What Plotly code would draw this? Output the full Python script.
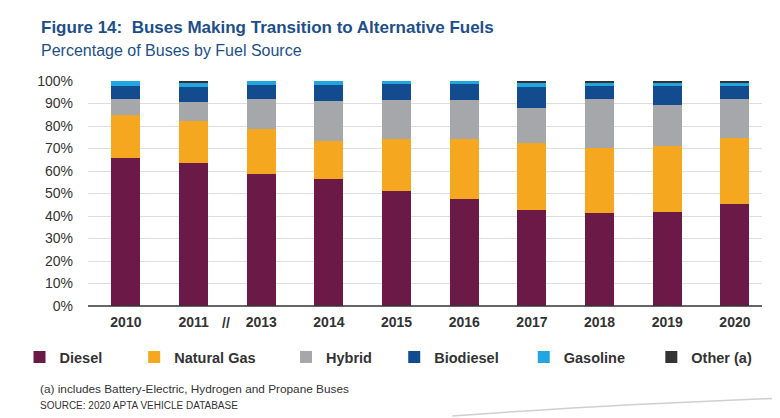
import plotly.graph_objects as go

years = ["2010", "2011", "2013", "2014", "2015", "2016", "2017", "2018", "2019", "2020"]
diesel = [65.6, 63.4, 58.7, 56.4, 51.3, 47.7, 42.8, 41.5, 41.9, 45.5]
natural_gas = [19.3, 19.0, 20.1, 16.8, 22.8, 26.4, 29.5, 28.6, 29.4, 29.0]
hybrid = [7.0, 8.4, 13.1, 17.8, 17.6, 17.3, 15.7, 21.8, 18.0, 17.4]
biodiesel = [5.9, 6.7, 6.5, 7.4, 6.8, 7.1, 9.5, 5.9, 8.5, 5.9]
gasoline = [2.2, 1.9, 1.6, 1.6, 1.5, 1.5, 1.8, 1.6, 1.5, 1.6]
other = [0.0, 0.6, 0.0, 0.0, 0.0, 0.0, 0.7, 0.6, 0.7, 0.6]
y_ticks = [0, 10, 20, 30, 40, 50, 60, 70, 80, 90, 100]
y_tick_labels = [f"{v}%" for v in y_ticks]

# legend square centres (reference pixels)
series = [
    ("Diesel", diesel, "#6b1a47", 38.5),
    ("Natural Gas", natural_gas, "#f5a81f", 154),
    ("Hybrid", hybrid, "#a6a7aa", 307),
    ("Biodiesel", biodiesel, "#124c8e", 416),
    ("Gasoline", gasoline, "#22a6e0", 546.5),
    ("Other (a)", other, "#333333", 675),
]

OFF = 8  # page body margin
W, H = 780 - OFF, 418 - OFF
L, R, T, B = 83 - OFF, 18, 81 - OFF, 112
pw, ph = W - L - R, H - T - B

def px2x(px):
    return (px - OFF - L) / pw

def py2y(py):
    return (H - B - (py - OFF)) / ph

fig = go.Figure()
x_idx = list(range(len(years)))
layout_legends = {}
for i, (name, vals, color, sq) in enumerate(series):
    lg = "legend" if i == 0 else f"legend{i+1}"
    fig.add_trace(go.Bar(
        x=x_idx, y=vals, name=name, marker=dict(color=color, line=dict(width=0)),
        legend=lg, hovertemplate=name + " %{y}%<extra></extra>",
    ))
    layout_legends[lg] = dict(
        x=px2x(sq - 24.5), y=py2y(357), xanchor="left", yanchor="middle",
        orientation="h", bgcolor="rgba(0,0,0,0)",
        font=dict(family="Liberation Sans", size=14.5, color="#333333", weight="bold"),
        itemwidth=30, tracegroupgap=0,
    )

fig.update_layout(
    width=W, height=H,
    margin=dict(l=L, r=R, t=T, b=B),
    barmode="stack", bargap=0.57,
    plot_bgcolor="white", paper_bgcolor="white",
    showlegend=True,
    **layout_legends,
    xaxis=dict(
        tickmode="array", tickvals=x_idx, ticktext=years,
        range=[-0.56, 9.4], showgrid=False, zeroline=False,
        showline=False, ticks="",
        tickfont=dict(family="Liberation Sans", size=14, color="#333333", weight="bold"),
        ticklabelstandoff=6,
    ),
    yaxis=dict(
        range=[0, 100], tickmode="array", tickvals=y_ticks, ticktext=y_tick_labels,
        showgrid=True, gridcolor="#dedede", gridwidth=1,
        zeroline=False, showline=False, ticks="",
        tickfont=dict(family="Liberation Sans", size=14, color="#333333"),
        ticklabelstandoff=14,
    ),
    annotations=[
        dict(text="<b>Figure 14:  Buses Making Transition to Alternative Fuels</b>",
             xref="paper", yref="paper", x=px2x(34), y=py2y(27), xanchor="left", yanchor="middle",
             showarrow=False, font=dict(family="Liberation Sans", size=17, color="#1d4f8a")),
        dict(text="Percentage of Buses by Fuel Source",
             xref="paper", yref="paper", x=px2x(34), y=py2y(50), xanchor="left", yanchor="middle",
             showarrow=False, font=dict(family="Liberation Sans", size=16, color="#1d4f8a")),
        dict(text="<b>//</b>", xref="paper", yref="paper", x=px2x(222), y=py2y(323),
             xanchor="center", yanchor="middle", showarrow=False,
             font=dict(family="Liberation Sans", size=14, color="#333333")),
        dict(text="(a) includes Battery-Electric, Hydrogen and Propane Buses",
             xref="paper", yref="paper", x=px2x(33), y=py2y(389), xanchor="left", yanchor="middle",
             showarrow=False, font=dict(family="Liberation Sans", size=11.8, color="#333333")),
        dict(text="SOURCE: 2020 APTA VEHICLE DATABASE",
             xref="paper", yref="paper", x=px2x(33), y=py2y(405), xanchor="left", yanchor="middle",
             showarrow=False, font=dict(family="Liberation Sans", size=10, color="#333333")),
    ],
    shapes=[
        dict(type="line", xref="paper", yref="paper", x0=0, x1=1, y0=0, y1=0,
             line=dict(color="#333333", width=1.5)),
        dict(type="path", xref="paper", yref="paper",
             path=f"M {px2x(450)},{py2y(416)} Q {px2x(600)},{py2y(405)} {px2x(782)},{py2y(398)}",
             line=dict(color="#cfcfcf", width=1.5)),
    ],
)

fig.write_html("out.html")
